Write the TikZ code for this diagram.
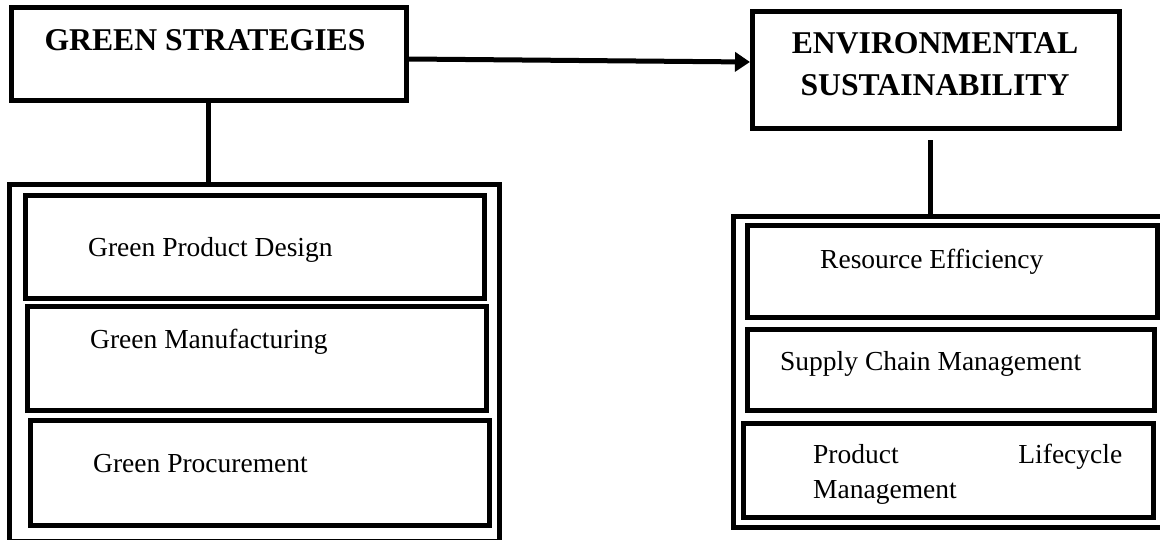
\documentclass[tikz,border=0pt]{standalone}
\usepackage{fontspec}
\setmainfont{Liberation Serif}
\usetikzlibrary{arrows.meta}
\begin{document}
\begin{tikzpicture}[x=1pt,y=-1pt,
  box/.style={draw=black, line width=5pt, rectangle, inner sep=0pt},
  heading/.style={font=\fontsize{31.7}{42}\selectfont\bfseries, inner sep=0pt, anchor=base},
  itemtext/.style={font=\fontsize{27.5}{35}\selectfont, inner sep=0pt, anchor=base west},
  link/.style={line width=5pt},
  flow/.style={line width=5pt, -{Triangle[length=15pt,width=19pt]}}]
\useasboundingbox (0,0) rectangle (1160,539);

% top-level blocks
\node[box, minimum width=395pt, minimum height=93pt] (gs) at (209,54) {};
\node[heading] (gstext) at (205,50) {GREEN STRATEGIES};

\node[box, minimum width=367pt, minimum height=117pt] (env) at (936,70) {};
\node[heading] (envtext) at (935,53)
  {\begin{tabular}[t]{@{}c@{}}ENVIRONMENTAL\\SUSTAINABILITY\end{tabular}};

% green strategies group
\node[box, minimum width=490pt, minimum height=356.5pt] (gsg) at (254.5,362.75) {};
\node[box, minimum width=459pt, minimum height=103pt] (gpd) at (255,247) {};
\node[box, minimum width=459pt, minimum height=104pt] (gm) at (257,358.5) {};
\node[box, minimum width=459pt, minimum height=105pt] (gp) at (260,473) {};
\node[itemtext] (gpdtext) at (88,256) {Green Product Design};
\node[itemtext] (gmtext) at (90,348) {Green Manufacturing};
\node[itemtext] (gptext) at (93,472) {Green Procurement};

% environmental sustainability group
\node[box, minimum width=429.5pt, minimum height=311pt] (esg) at (948.25,372) {};
\node[box, minimum width=410pt, minimum height=92pt] (re) at (952.5,271.5) {};
\node[box, minimum width=407pt, minimum height=81pt] (scm) at (951,370) {};
\node[box, minimum width=410pt, minimum height=94pt] (plm) at (948.5,470.5) {};
\node[itemtext] (retext) at (820,268) {Resource Efficiency};
\node[itemtext] (scmtext) at (780,370) {Supply Chain Management};
\node[itemtext] (plmtext) at (813,463)
  {\begin{tabular}[t]{@{}l@{}}\makebox[309pt][s]{Product Lifecycle}\\Management\end{tabular}};

% connectors
\draw[link] ([xshift=-1pt]gs.south) coordinate (gsdrop) -- (gsdrop |- gsg.north);
\draw[link, shorten <=9pt] ([xshift=-6pt]env.south) coordinate (envdrop) -- (envdrop |- esg.north);
\draw[flow] ([yshift=-5pt]gs.east) -- ([yshift=8pt]env.west);
\end{tikzpicture}
\end{document}
